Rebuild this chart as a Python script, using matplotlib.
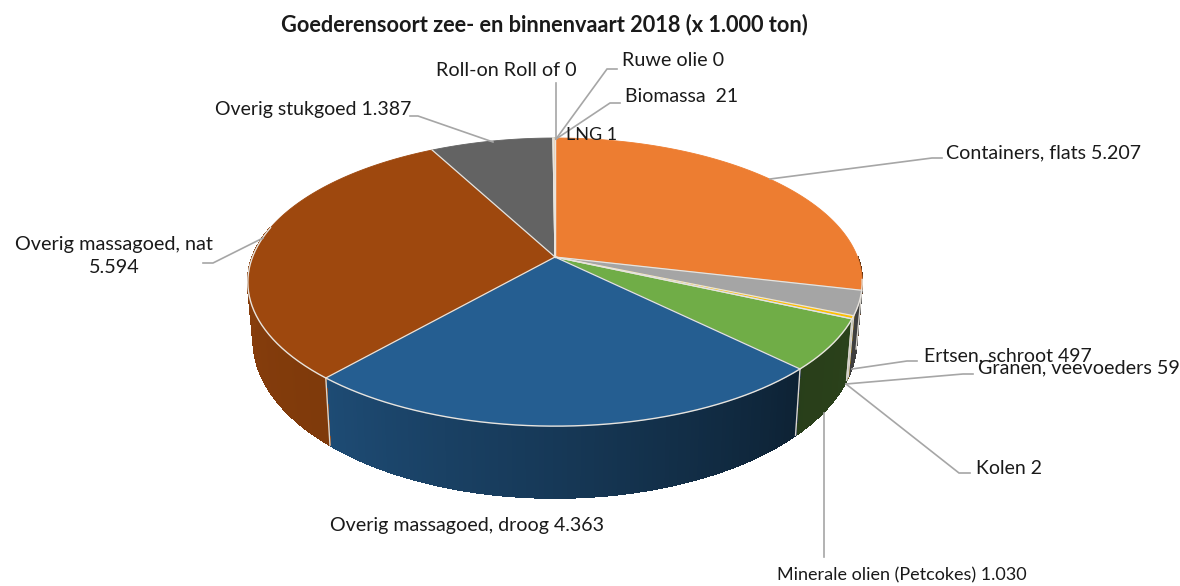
import numpy as np
import matplotlib
matplotlib.use("Agg")
import matplotlib.pyplot as plt
from matplotlib.colors import to_rgb

plt.rcParams['font.family'] = ['Lato', 'DejaVu Sans']

# ---- data ----
categories = ["Containers, flats", "Ertsen, schroot", "Granen, veevoeders", "Kolen",
              "Minerale olien (Petcokes)", "Overig massagoed, droog", "Overig massagoed, nat",
              "Overig stukgoed", "Roll-on Roll of", "Ruwe olie", "Biomassa", "LNG"]
values = [5207, 497, 59, 2, 1030, 4363, 5594, 1387, 0, 0, 21, 1]
value_labels = ["5.207", "497", "59", "2", "1.030", "4.363", "5.594", "1.387", "0", "0", "21", "1"]
colors = ["#ED7D31", "#A5A5A5", "#FFC000", "#4472C4", "#70AD47", "#255E91",
          "#9E480E", "#636363", "#997300", "#264478", "#43682B", "#FF9E4A"]
title = "Goederensoort zee- en binnenvaart 2018 (x 1.000 ton)"

# label layout in pixels: x, y, ha, font size
label_pos = {
    "Containers, flats": (946, 153, 'left', 14.1),
    "Ertsen, schroot": (924, 356, 'left', 14.0),
    "Granen, veevoeders": (978, 368, 'left', 14.2),
    "Kolen": (976, 469, 'left', 14.0),
    "Minerale olien (Petcokes)": (902, 575, 'center', 13.0),
    "Overig massagoed, droog": (467, 526, 'center', 14.1),
    "Overig massagoed, nat": (114, 256, 'center', 14.3),
    "Overig stukgoed": (313, 110, 'center', 14.0),
    "Roll-on Roll of": (506, 71, 'center', 14.2),
    "Ruwe olie": (622, 61, 'left', 14.2),
    "Biomassa": (625, 96, 'left', 14.0),
    "LNG": (566, 135, 'left', 13.0),
}
# leader lines in pixels
leaders = [
    [(770, 179), (932, 158), (942, 158)],
    [(852, 369), (907, 361), (917, 361)],
    [(846, 384), (963, 374), (973, 374)],
    [(846, 384), (959, 473), (970, 473)],
    [(824, 413), (824, 557)],
    [(263, 238), (213, 263), (203, 263)],
    [(493, 142), (418, 116), (410, 116)],
    [(556, 139), (556, 83)],
    [(556, 139), (607, 69), (617, 69)],
    [(556, 139), (610, 103), (620, 103)],
]

# ---- geometry (pixel canvas) ----
W, H = 1180, 586
CX, CY = 555, 257
B = 0.174
A_TOP, C_TOP = 139.7, 302.5
CX_B, CY_B, A_B, C_B = 555, 312.6, 153.0, 297.0


def project(theta, top=True):
    """theta: clockwise from 12 o'clock, radians."""
    u, v = np.sin(theta), np.cos(theta)
    d = 1 + B * v
    if top:
        return CX + C_TOP * u / d, CY - A_TOP * v / d
    return CX_B + C_B * u / d, CY_B - A_B * v / d


def shade(col, theta):
    """Side wall shading: darker toward the lower right."""
    rgb = np.array(to_rgb(col))
    f = np.interp(np.degrees(theta), [90, 135, 180, 221, 285], [0.40, 0.36, 0.60, 0.80, 0.88])
    return rgb * f


fig = plt.figure(figsize=(W / 100, H / 100), dpi=100)
ax = fig.add_axes([0, 0, 1, 1])
ax.set_xlim(0, W)
ax.set_ylim(H, 0)
ax.axis('off')

vals = np.array(values, float)
edges = np.concatenate([[0], np.cumsum(vals)]) / vals.sum() * 2 * np.pi

# leader lines
for pts in leaders:
    xs, ys = zip(*pts)
    ax.plot(xs, ys, color='#A6A6A6', lw=1.2, zorder=6, solid_joinstyle='miter')

# side walls
for col, a0, a1 in zip(colors, edges[:-1], edges[1:]):
    lo, hi = max(a0, np.pi / 2), min(a1, 1.57 * np.pi)
    if hi <= lo:
        continue
    ts = np.linspace(lo, hi, max(2, int((hi - lo) * 80)))
    for t0, t1 in zip(ts[:-1], ts[1:]):
        xt, yt = project(np.array([t0, t1]), True)
        xb, yb = project(np.array([t1, t0]), False)
        c = shade(col, (t0 + t1) / 2)
        ax.fill(np.r_[xt, xb], np.r_[yt, yb], color=c, lw=0.8, antialiased=False, zorder=2)
    xa, ya = project(np.array([lo]), True)
    xc, yc = project(np.array([lo]), False)
    ax.plot([xa[0], xc[0]], [ya[0], yc[0]], color='#DAD6CF', lw=1.0, zorder=3)

# top surface
for col, a0, a1 in zip(colors, edges[:-1], edges[1:]):
    ts = np.linspace(a0, a1, max(2, int((a1 - a0) * 120)))
    x, y = project(ts, True)
    ax.fill(np.r_[CX, x], np.r_[CY, y], facecolor=col, edgecolor=col, lw=0.6, zorder=4)
# light separators and front rim
for a in edges:
    x, y = project(np.array([a]), True)
    ax.plot([CX, x[0]], [CY, y[0]], color='#E8E4DE', lw=0.9, zorder=5)
ts = np.linspace(np.pi * 0.55, 1.57 * np.pi, 300)
x, y = project(ts, True)
ax.plot(x, y, color='#E8E4DE', lw=1.0, zorder=5)

# labels
for name, val in zip(categories, value_labels):
    tx, ty, ha, fs = label_pos[name]
    txt = f"{name} {val}"
    if name == "Overig massagoed, nat":
        txt = f"{name}\n{val}"
    if name == "Biomassa":
        txt = f"{name}  {val}"
    ax.text(tx, ty, txt, ha=ha, va='center', fontsize=fs, color='#1a1a1a', zorder=7, linespacing=1.42)

ax.text(544.5, 25, title, ha='center', va='center', fontsize=15.7, fontweight='bold', color='#1a1a1a', zorder=7)
fig.savefig("out.png", dpi=100)
